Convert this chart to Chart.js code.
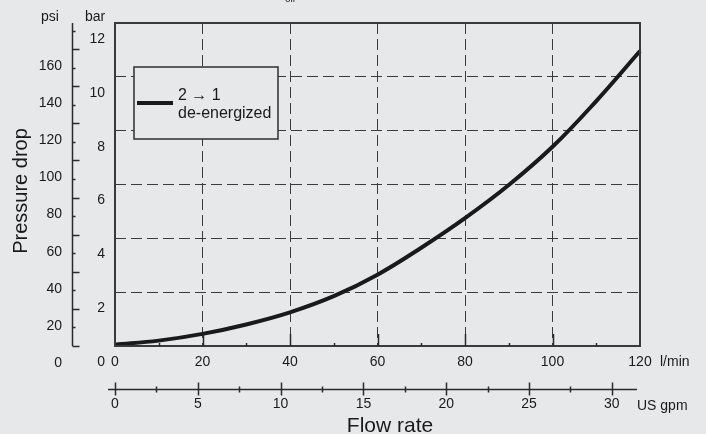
<!DOCTYPE html>
<html>
<head>
<meta charset="utf-8">
<script src="https://cdn.jsdelivr.net/npm/chart.js@4.4.0/dist/chart.umd.min.js"></script>
<style>
    html, body { margin: 0; padding: 0; background: #e7e8ea; }
    #wrap { width: 706px; height: 434px; }
</style>
</head>
<body>
<div id="wrap"><canvas id="chart" width="706" height="434"></canvas></div>
<script>
// Flow rate (l/min) against pressure drop (bar)
const flowLpm = [0, 10, 20, 30, 40, 50, 60, 70, 80, 90, 100, 110, 120];
const dropBar = [0.05, 0.2, 0.45, 0.8, 1.25, 1.85, 2.65, 3.65, 4.75, 5.98, 7.4, 9.1, 10.96];

// Axis ticks and labels
const lpmTicks = [0, 20, 40, 60, 80, 100, 120];
const barTicks = [0, 2, 4, 6, 8, 10, 12];
const psiTicks = [0, 10, 20, 30, 40, 50, 60, 70, 80, 90, 100, 110, 120, 130, 140, 150, 160, 170];
const psiLabels = [0, 20, 40, 60, 80, 100, 120, 140, 160];
const gpmTicks = [0, 2.5, 5, 7.5, 10, 12.5, 15, 17.5, 20, 22.5, 25, 27.5, 30];
const gpmLabels = [0, 5, 10, 15, 20, 25, 30];
const legendLines = ['2 \u2192 1', 'de-energized'];

const BAR_TO_PSI = 14.5038;
const GPM_TO_LPM = 3.78541;

const FONT = "'Liberation Sans', Arial, sans-serif";
const INK = '#1a1a1a';
const BG = '#e7e8ea';

const decor = {
    id: 'decor',
    afterDraw(chart) {
        const ctx = chart.ctx;
        const area = chart.chartArea;
        const x = chart.scales.x;
        const psi = chart.scales.psi;
        const gpm = chart.scales.gpm;

        ctx.save();
        // plot frame
        ctx.strokeStyle = '#3a3a3a';
        ctx.lineWidth = 2;
        ctx.strokeRect(area.left, area.top, area.right - area.left, area.bottom - area.top);

        // inward ticks on the flow axis
        ctx.lineWidth = 1.5;
        ctx.strokeStyle = '#2a2a2a';
        for (let v = 10; v < 120; v += 10) {
            const px = Math.round(x.getPixelForValue(v)) + 0.5;
            const len = v % 20 === 0 ? 12 : 3;
            ctx.beginPath();
            ctx.moveTo(px, area.bottom);
            ctx.lineTo(px, area.bottom - len);
            ctx.stroke();
        }

        // psi axis
        const psiX = 72.5;
        ctx.beginPath();
        ctx.moveTo(psiX, area.top);
        ctx.lineTo(psiX, area.bottom);
        ctx.stroke();
        psiTicks.forEach(v => {
            const py = Math.round(psi.getPixelForValue(v)) + 0.5;
            const len = v % 20 === 0 ? 7 : 3;
            ctx.beginPath();
            ctx.moveTo(psiX, py);
            ctx.lineTo(psiX + len, py);
            ctx.stroke();
        });
        ctx.fillStyle = INK;
        ctx.font = '14px ' + FONT;
        ctx.textAlign = 'right';
        ctx.textBaseline = 'middle';
        psiLabels.forEach(v => {
            ctx.fillText(String(v), 62, psi.getPixelForValue(v) + 17);
        });

        // unit headers
        ctx.font = '14px ' + FONT;
        ctx.textAlign = 'center';
        ctx.fillText('psi', 50, 17);
        ctx.fillText('bar', 95, 17);

        // tiny cut-off text at the very top
        ctx.font = '10px ' + FONT;
        ctx.textBaseline = 'alphabetic';
        ctx.fillText('oil', 290, 2);

        // y title
        ctx.save();
        ctx.translate(21, 191);
        ctx.rotate(-Math.PI / 2);
        ctx.font = '20px ' + FONT;
        ctx.textBaseline = 'middle';
        ctx.fillText('Pressure drop', 0, 0);
        ctx.restore();

        // l/min unit
        ctx.font = '14px ' + FONT;
        ctx.textAlign = 'left';
        ctx.textBaseline = 'middle';
        ctx.fillText('l/min', 660, 362);

        // US gpm axis
        const gy = 389.5;
        ctx.beginPath();
        ctx.moveTo(x.getPixelForValue(0) - 7, gy);
        ctx.lineTo(x.getPixelForValue(120) - 3, gy);
        ctx.stroke();
        gpmTicks.forEach(v => {
            const px = Math.round(gpm.getPixelForValue(v)) + 0.5;
            const major = v % 5 === 0;
            ctx.beginPath();
            ctx.moveTo(px, gy - (major ? 7 : 3));
            ctx.lineTo(px, gy + (major ? 6 : 3));
            ctx.stroke();
        });
        ctx.textAlign = 'center';
        gpmLabels.forEach(v => {
            ctx.fillText(String(v), gpm.getPixelForValue(v), 404);
        });
        ctx.textAlign = 'left';
        ctx.fillText('US gpm', 637, 406);

        // x title
        ctx.font = '21px ' + FONT;
        ctx.textAlign = 'center';
        ctx.textBaseline = 'alphabetic';
        ctx.fillText('Flow rate', 390, 432);

        // legend box
        ctx.fillStyle = BG;
        ctx.fillRect(134, 67, 144, 72);
        ctx.strokeStyle = '#2e2e2e';
        ctx.lineWidth = 1.5;
        ctx.strokeRect(134, 67, 144, 72);
        ctx.strokeStyle = INK;
        ctx.lineWidth = 4;
        ctx.beginPath();
        ctx.moveTo(137, 103);
        ctx.lineTo(173, 103);
        ctx.stroke();
        ctx.fillStyle = INK;
        ctx.font = '16px ' + FONT;
        ctx.textAlign = 'left';
        ctx.textBaseline = 'middle';
        ctx.fillText(legendLines[0], 178, 96);
        ctx.fillText(legendLines[1], 178, 114);
        ctx.restore();
    }
};

const chart = new Chart(document.getElementById('chart'), {
    type: 'line',
    data: {
        datasets: [{
            label: legendLines.join(' '),
            data: flowLpm.map((v, i) => ({ x: v, y: dropBar[i] })),
            borderColor: INK,
            borderWidth: 4,
            pointRadius: 0,
            tension: 0.4,
            clip: false
        }]
    },
    options: {
        responsive: false,
        animation: false,
        layout: { padding: { left: 85, top: 23, right: 66, bottom: 58 } },
        plugins: {
            legend: { display: false },
            tooltip: { enabled: false }
        },
        scales: {
            x: {
                type: 'linear',
                position: 'bottom',
                min: 0,
                max: 120,
                afterBuildTicks: s => { s.ticks = lpmTicks.map(v => ({ value: v })); },
                afterFit: s => { s.height = 30; },
                ticks: { color: INK, font: { family: FONT, size: 14 }, padding: 8, maxRotation: 0 },
                grid: { color: '#3a3a3a', lineWidth: 1, drawTicks: false },
                border: { display: false, dash: [11, 5] }
            },
            y: {
                type: 'linear',
                position: 'left',
                min: 0,
                max: 12,
                afterBuildTicks: s => { s.ticks = barTicks.map(v => ({ value: v })); },
                afterFit: s => { s.width = 30; },
                ticks: { color: INK, font: { family: FONT, size: 14 }, padding: 10, labelOffset: 16 },
                grid: { color: '#3a3a3a', lineWidth: 1, drawTicks: false },
                border: { display: false, dash: [11, 5] }
            },
            psi: {
                type: 'linear',
                position: 'left',
                display: false,
                min: 0,
                max: 12 * BAR_TO_PSI
            },
            gpm: {
                type: 'linear',
                position: 'bottom',
                display: false,
                min: 0,
                max: 120 / GPM_TO_LPM
            }
        }
    },
    plugins: [decor]
});
</script>
</body>
</html>
